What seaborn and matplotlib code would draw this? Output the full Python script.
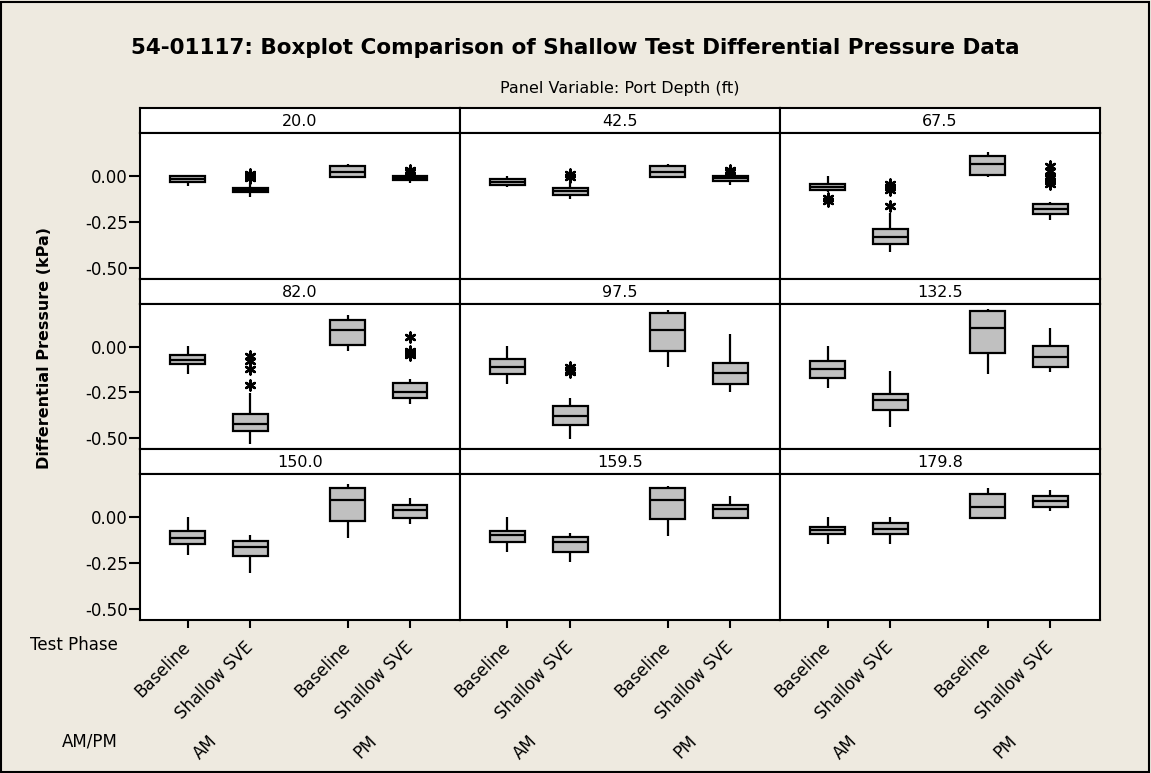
import matplotlib
matplotlib.use("Agg")
import matplotlib.pyplot as plt
import matplotlib.transforms as mtransforms
from matplotlib.patches import Rectangle
import seaborn as sns
import pandas as pd

# panel variable and x categories
ports = ["20.0", "42.5", "67.5", "82.0", "97.5", "132.5", "150.0", "159.5", "179.8"]
phases = ["Baseline", "Shallow SVE", "Baseline", "Shallow SVE"]
ampm = ["AM", "PM"]
group_pos = [0, 1, 2.56, 3.56]   # AM pair, gap, PM pair

# box summaries [low whisker, Q1, median, Q3, high whisker]
# order inside each port: AM Baseline, AM Shallow SVE, PM Baseline, PM Shallow SVE
box_20_0 = [[-0.054, -0.034, -0.016, 0.0, 0.004], [-0.111, -0.088, -0.075, -0.063, -0.039],
            [-0.007, -0.002, 0.023, 0.054, 0.068], [-0.036, -0.023, -0.011, 0.002, 0.011]]
box_42_5 = [[-0.057, -0.047, -0.034, -0.018, 0.0], [-0.122, -0.100, -0.081, -0.063, -0.030],
            [-0.009, -0.004, 0.023, 0.055, 0.068], [-0.047, -0.025, -0.012, 0.002, 0.011]]
box_67_5 = [[-0.084, -0.077, -0.061, -0.043, 0.0], [-0.412, -0.369, -0.332, -0.290, -0.200],
            [-0.004, 0.007, 0.065, 0.109, 0.131], [-0.237, -0.206, -0.179, -0.150, -0.138]]
box_82_0 = [[-0.150, -0.092, -0.071, -0.043, 0.003], [-0.530, -0.463, -0.425, -0.369, -0.253],
            [-0.025, 0.009, 0.092, 0.150, 0.172], [-0.315, -0.281, -0.245, -0.200, -0.174]]
box_97_5 = [[-0.202, -0.150, -0.112, -0.066, 0.003], [-0.506, -0.427, -0.380, -0.324, -0.278],
            [-0.112, -0.022, 0.090, 0.183, 0.204], [-0.249, -0.202, -0.144, -0.088, 0.071]]
box_132_5 = [[-0.225, -0.171, -0.122, -0.075, 0.003], [-0.440, -0.348, -0.290, -0.257, -0.131],
             [-0.148, -0.032, 0.103, 0.194, 0.206], [-0.137, -0.112, -0.054, 0.002, 0.103]]
box_150_0 = [[-0.204, -0.144, -0.111, -0.074, 0.0], [-0.302, -0.209, -0.163, -0.130, -0.097],
             [-0.115, -0.022, 0.091, 0.157, 0.181], [-0.036, -0.002, 0.037, 0.068, 0.102]]
box_159_5 = [[-0.191, -0.136, -0.098, -0.074, 0.0], [-0.246, -0.191, -0.135, -0.108, -0.087],
             [-0.102, -0.011, 0.091, 0.157, 0.170], [-0.002, -0.002, 0.046, 0.068, 0.114]]
box_179_8 = [[-0.144, -0.091, -0.072, -0.054, 0.002], [-0.144, -0.093, -0.065, -0.030, 0.002],
             [-0.002, -0.002, 0.057, 0.126, 0.157], [0.031, 0.053, 0.087, 0.113, 0.146]]

# outliers (asterisks) per port, one list per group
out_20_0 = [[], [0.012, 0.0, -0.012], [], [0.035, 0.02]]
out_42_5 = [[], [0.01, -0.005], [], [0.035, 0.02]]
out_67_5 = [[-0.12, -0.135], [-0.165, -0.045, -0.06, -0.075], [],
            [0.055, 0.03, 0.0, -0.01, -0.025, -0.04]]
out_82_0 = [[], [-0.05, -0.075, -0.12, -0.21], [], [0.055, -0.02, -0.035, -0.045]]
out_97_5 = [[], [-0.11, -0.125, -0.14], [], []]
out_132_5 = [[], [], [], []]
out_150_0 = [[], [], [], []]
out_159_5 = [[], [], [], []]
out_179_8 = [[], [], [], []]

boxes = [box_20_0, box_42_5, box_67_5, box_82_0, box_97_5, box_132_5, box_150_0, box_159_5, box_179_8]
outs = [out_20_0, out_42_5, out_67_5, out_82_0, out_97_5, out_132_5, out_150_0, out_159_5, out_179_8]

rows = []
orows = []
for port, bx, ot in zip(ports, boxes, outs):
    for g in range(4):
        for v in bx[g]:
            rows.append({"port": port, "pos": group_pos[g], "value": v})
        for v in ot[g]:
            orows.append({"port": port, "pos": group_pos[g], "value": v})
df = pd.DataFrame(rows)
df_out = pd.DataFrame(orows)

sns.set_style("white")
plt.rcParams["font.family"] = ["DejaVu Sans"]
plt.rcParams["text.color"] = "black"
plt.rcParams["xtick.color"] = "black"
plt.rcParams["ytick.color"] = "black"

W, H = 1151, 773
bg = "#EEEAE0"
fig = plt.figure(figsize=(W / 100, H / 100), dpi=100, facecolor=bg)
gs = fig.add_gridspec(6, 3, left=140 / W, right=1100 / W, top=1 - 108 / H, bottom=1 - 620 / H,
                      height_ratios=[25, 146, 25, 145, 25, 146], hspace=0, wspace=0)

ylim = (-0.56, 0.235)
xlim = (-0.76, 4.36)

for i, port in enumerate(ports):
    r, c = divmod(i, 3)
    sax = fig.add_subplot(gs[2 * r, c])
    sax.set_facecolor("white")
    sax.set_xticks([])
    sax.set_yticks([])
    for sp in sax.spines.values():
        sp.set_linewidth(1.5)
        sp.set_color("black")
    sax.text(0.5, 0.45, port, ha="center", va="center", fontsize=11.5, transform=sax.transAxes)

    ax = fig.add_subplot(gs[2 * r + 1, c])
    ax.set_facecolor("white")
    sub = df[df["port"] == port]
    sns.boxplot(data=sub, x="pos", y="value", native_scale=True, width=0.56, whis=(0, 100),
                color="#C0C0C0", saturation=1, linecolor="black", linewidth=1.6,
                showcaps=False, fliersize=0, ax=ax)
    osub = df_out[df_out["port"] == port]
    if len(osub):
        sns.scatterplot(data=osub, x="pos", y="value", marker=(6, 2, 0), s=50, color="black",
                        linewidth=1.8, ax=ax, legend=False, zorder=5)
    ax.set_xlim(*xlim)
    ax.set_ylim(*ylim)
    ax.set_xlabel("")
    ax.set_ylabel("")
    for sp in ax.spines.values():
        sp.set_linewidth(1.5)
        sp.set_color("black")
    if c == 0:
        ax.set_yticks([0.0, -0.25, -0.5])
        ax.set_yticklabels(["0.00", "-0.25", "-0.50"], fontsize=12)
        ax.tick_params(axis="y", left=True, length=8, width=1.5, pad=1)
    else:
        ax.set_yticks([])
    if r == 2:
        ax.set_xticks(group_pos)
        ax.set_xticklabels([])
        ax.tick_params(axis="x", bottom=True, length=6, width=1.5)
        tr = mtransforms.blended_transform_factory(ax.transData, fig.transFigure)
        for p, lab in zip(group_pos, phases):
            ax.text(p, 1 - 645 / H, lab, transform=tr, rotation=45, ha="right", va="center",
                    rotation_mode="anchor", fontsize=12)
        for k, lab in enumerate(ampm):
            mid = (group_pos[2 * k] + group_pos[2 * k + 1]) / 2 - 0.07
            ax.text(mid, 1 - 738 / H, lab, transform=tr, rotation=45, ha="right", va="center",
                    rotation_mode="anchor", fontsize=12)
    else:
        ax.set_xticks([])

fig.text(0.5, 1 - 48 / H, "54-01117: Boxplot Comparison of Shallow Test Differential Pressure Data",
         ha="center", va="center", fontsize=15.5, fontweight="bold")
fig.text(620 / W, 1 - 88 / H, "Panel Variable: Port Depth (ft)", ha="center", va="center", fontsize=11.5)
fig.text(45 / W, 1 - 348 / H, "Differential Pressure (kPa)", rotation=90, ha="center", va="center",
         fontsize=11.5, fontweight="bold")
fig.text(118 / W, 1 - 645 / H, "Test Phase", ha="right", va="center", fontsize=12)
fig.text(118 / W, 1 - 742 / H, "AM/PM", ha="right", va="center", fontsize=12)

fig.patches.append(Rectangle((1 / W, 1 / H), 1 - 3 / W, 1 - 3 / H, transform=fig.transFigure,
                             fill=False, lw=1.5, ec="black"))

fig.savefig("out.png", dpi=100, facecolor=bg)
